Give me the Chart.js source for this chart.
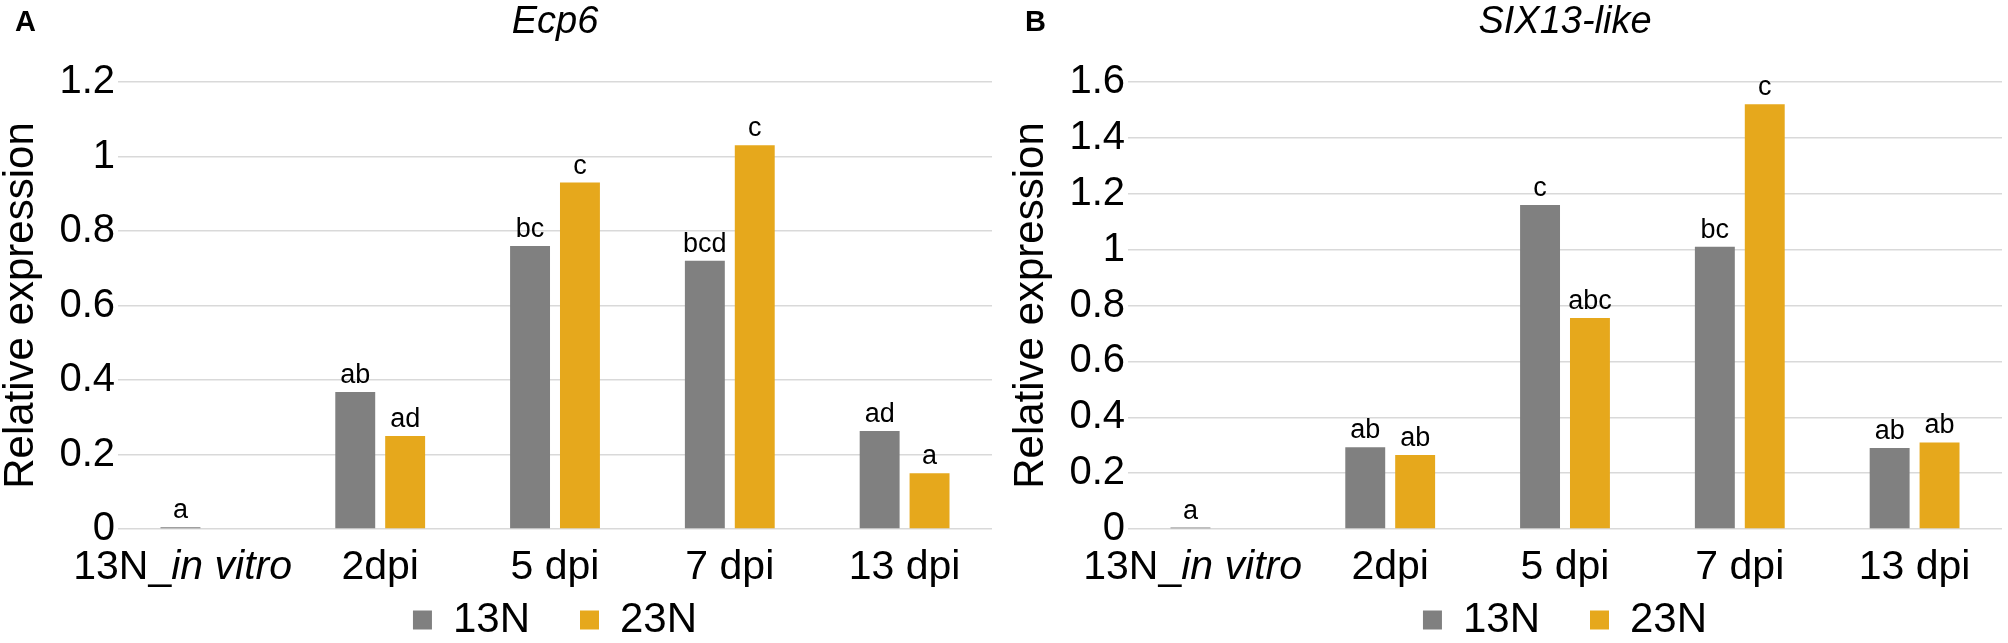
<!DOCTYPE html>
<html>
<head>
<meta charset="utf-8">
<script src="https://cdn.jsdelivr.net/npm/chart.js@4.4.0/dist/chart.umd.min.js"></script>
<style>
html, body { margin: 0; padding: 0; background: #fff; }
#wrap { position: relative; width: 2008px; height: 643px; overflow: hidden; }
.panel { position: absolute; top: 0; width: 996px; height: 643px; }
</style>
</head>
<body>
<div id="wrap">
  <div class="panel" style="left:0"><canvas id="chartA"></canvas></div>
  <div class="panel" style="left:1010px"><canvas id="chartB"></canvas></div>
</div>
<script>
// 資料
const categories = ["13N_in vitro    ", "2dpi", "5 dpi", "7 dpi", "13 dpi"];
const seriesNames = ["13N", "23N"];

const ecp6_13N = [0.005, 0.368, 0.76, 0.72, 0.263];
const ecp6_23N = [null, 0.25, 0.93, 1.03, 0.15];
const ecp6_13N_letters = ["a", "ab", "bc", "bcd", "ad"];
const ecp6_23N_letters = ["", "ad", "c", "c", "a"];
const ecp6_ticks = { max: 1.2, step: 0.2 };

const six13_13N = [0.005, 0.293, 1.16, 1.01, 0.29];
const six13_23N = [null, 0.265, 0.755, 1.52, 0.31];
const six13_13N_letters = ["a", "ab", "c", "bc", "ab"];
const six13_23N_letters = ["", "ab", "abc", "c", "ab"];
const six13_ticks = { max: 1.6, step: 0.2 };

const FONT = '"Liberation Sans", Arial, Helvetica, sans-serif';
const GRAY = "#808080";
const GOLD = "#E6A81C";
const italicPart = "in vitro";

// 柱上字母、x 軸標籤、面板字母
const extrasPlugin = {
    id: "extras",
    afterDatasetsDraw(chart, args, opts) {
        const ctx = chart.ctx;
        ctx.save();
        ctx.fillStyle = "#000";
        ctx.textAlign = "center";
        ctx.textBaseline = "alphabetic";
        ctx.font = "27px " + FONT;
        chart.data.datasets.forEach((ds, i) => {
            const meta = chart.getDatasetMeta(i);
            meta.data.forEach((bar, j) => {
                const t = ds.letters[j];
                if (!t || ds.data[j] == null) return;
                ctx.fillText(t, bar.x, bar.y - 9);
            });
        });

        // x 軸標籤 (部分斜體)
        const xs = chart.scales.x;
        const baseY = chart.chartArea.bottom + 50;
        const normal = "41px " + FONT;
        const italic = "italic 41px " + FONT;
        ctx.textAlign = "left";
        chart.data.labels.forEach((label, i) => {
            const cx = xs.getPixelForTick(i);
            const idx = label.indexOf(italicPart);
            const parts = idx < 0 ? [[label, normal]] :
                [[label.slice(0, idx), normal], [italicPart, italic], [label.slice(idx + italicPart.length), normal]];
            let total = 0;
            parts.forEach(p => { ctx.font = p[1]; total += ctx.measureText(p[0]).width; });
            let x = cx - total / 2;
            parts.forEach(p => {
                ctx.font = p[1];
                ctx.fillText(p[0], x, baseY);
                x += ctx.measureText(p[0]).width;
            });
        });

        ctx.font = "bold 29px " + FONT;
        ctx.fillText(opts.panel, 15, 31);
        ctx.restore();
    }
};

function makeChart(id, panel, title, d13, d23, l13, l23, ticks) {
    const ctx = document.getElementById(id).getContext("2d");
    return new Chart(ctx, {
        type: "bar",
        data: {
            labels: categories,
            datasets: [
                { label: seriesNames[0], data: d13, letters: l13, backgroundColor: GRAY },
                { label: seriesNames[1], data: d23, letters: l23, backgroundColor: GOLD }
            ]
        },
        options: {
            responsive: true,
            maintainAspectRatio: false,
            animation: false,
            categoryPercentage: 0.571,
            barPercentage: 0.8,
            layout: { padding: { top: 0, right: 4, bottom: -8, left: 0 } },
            plugins: {
                extras: { panel: panel },
                tooltip: { enabled: false },
                title: {
                    display: true,
                    text: title,
                    fullSize: false,
                    color: "#000",
                    font: { family: FONT, size: 38, style: "italic", weight: "normal" },
                    padding: { top: 0, bottom: 36.4 }
                },
                legend: {
                    position: "bottom",
                    fullSize: false,
                    labels: {
                        color: "#000",
                        boxWidth: 19,
                        boxHeight: 19,
                        padding: 50,
                        font: { family: FONT, size: 42 }
                    }
                }
            },
            scales: {
                x: {
                    grid: { display: false },
                    border: { display: false },
                    ticks: { display: false },
                    afterFit(scale) { scale.height = 20; }
                },
                y: {
                    min: 0,
                    max: ticks.max,
                    ticks: {
                        stepSize: ticks.step,
                        color: "#000",
                        padding: 3,
                        font: { family: FONT, size: 40 },
                        callback: v => String(Number(v.toFixed(1)))
                    },
                    grid: { color: "#d9d9d9", lineWidth: 1.5, drawTicks: false },
                    border: { display: false },
                    title: {
                        display: true,
                        text: "Relative expression",
                        color: "#000",
                        padding: { top: 0, bottom: 0 },
                        font: { family: FONT, size: 42, lineHeight: 1.0 }
                    },
                    afterFit(scale) { scale.width = 118; }
                }
            }
        },
        plugins: [extrasPlugin]
    });
}

makeChart("chartA", "A", "Ecp6", ecp6_13N, ecp6_23N, ecp6_13N_letters, ecp6_23N_letters, ecp6_ticks);
makeChart("chartB", "B", "SIX13-like", six13_13N, six13_23N, six13_13N_letters, six13_23N_letters, six13_ticks);
</script>
</body>
</html>
